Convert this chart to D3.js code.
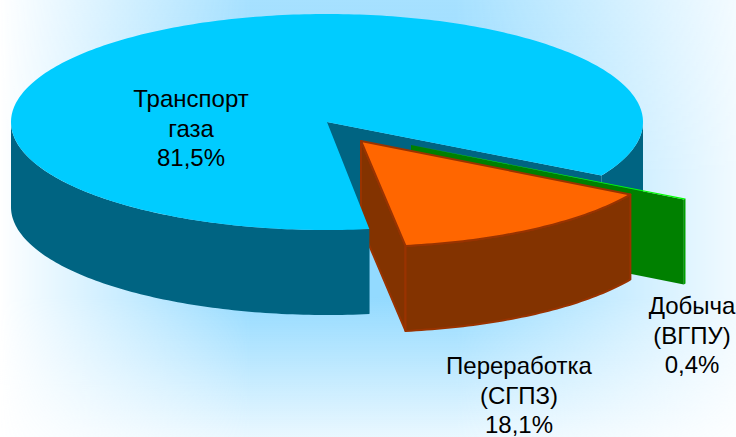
<!DOCTYPE html>
<html><head><meta charset="utf-8">
<script src="https://cdn.jsdelivr.net/npm/d3@7"></script>
<style>html,body{margin:0;padding:0;background:#fff}svg{display:block}text{font-family:"Liberation Sans",Arial,sans-serif;font-size:24px;fill:#000;text-anchor:middle}</style>
</head><body><script>
// Data
const names = ["Переработка", "Добыча", "Транспорт"];
const shares = [18.1, 0.4, 81.5];
const labels = [
  ["Переработка", "(СГПЗ)", "18,1%"],
  ["Добыча", "(ВГПУ)", "0,4%"],
  ["Транспорт", "газа", "81,5%"]
];
const topColors = ["#ff6600", "#00ff00", "#00ccff"];
const sideColors = ["#833300", "#00a000", "#006482"];
const cutColors = ["#833300", "#008000", "#006482"];

// Layout
const W = 736, H = 437, DEPTH = 85;
const radii = [[312, 106], [316, 108], [316, 108]];
const apexes = [[361, 141], [411, 145], [327, 122]];
const labelPos = [[519, 374], [692, 314], [191, 107]];
const LINE = 29.5;

const svg = d3.select("body").append("svg").attr("width", W).attr("height", H);
const defs = svg.append("defs");
const gh = defs.append("linearGradient").attr("id", "gh");
[[0, "#000"], [.02, "#111"], [.34, "#fff"], [.62, "#fff"], [1, "#222"]].forEach(s => gh.append("stop").attr("offset", s[0]).attr("stop-color", s[1]));
const gv = defs.append("linearGradient").attr("id", "gv").attr("x2", 0).attr("y2", 1);
[[0, .82], [.4, 1], [.68, 1], [1, .2]].forEach(s => gv.append("stop").attr("offset", s[0]).attr("stop-color", "#93daff").attr("stop-opacity", s[1]));
defs.append("mask").attr("id", "m").attr("maskUnits", "userSpaceOnUse").attr("x", 0).attr("y", 0).attr("width", W).attr("height", H)
  .append("rect").attr("width", W).attr("height", H).attr("fill", "url(#gh)");
svg.append("rect").attr("width", W).attr("height", H).attr("fill", "#fff");
svg.append("rect").attr("width", W).attr("height", H).attr("fill", "url(#gv)").attr("mask", "url(#m)");

// Pie layout, then a scale from pie angle to the drawn ellipse parameter (degrees)
const pie = d3.pie().sort(null).value(d => d).startAngle(0).endAngle(2 * Math.PI);
const arcs = pie(shares);
const total = d3.sum(shares);
const toAngle = a => a / (2 * Math.PI) * total;
const tScale = d3.scaleLinear().domain([0, shares[0], shares[0] + shares[1], total]).range([81.8, 30.3, 29.7, 82.3 - 360]);
const pt = (i, deg, dz = 0) => {
  const r = deg * Math.PI / 180;
  return [apexes[i][0] + radii[i][0] * Math.cos(r), apexes[i][1] + radii[i][1] * Math.sin(r) + dz];
};
const line = d3.line();
const rim = (i, a, b, dz = 0) => {
  const n = Math.max(2, Math.ceil(Math.abs(b - a)));
  return d3.range(n + 1).map(k => pt(i, a + (b - a) * k / n, dz));
};
const ang = i => [tScale(toAngle(arcs[i].startAngle)), tScale(toAngle(arcs[i].endAngle))];
const draw = (pts, fill, stroke, sw) => svg.append("path").attr("d", line(pts) + "Z").attr("fill", fill)
  .attr("stroke", stroke || "none").attr("stroke-width", sw || 0).attr("stroke-linejoin", "round");
const cut = (i, deg) => {
  const A = apexes[i], R = pt(i, deg);
  return [A, R, [R[0], R[1] + DEPTH], [A[0], A[1] + DEPTH]];
};
const wall = (i, a, b) => rim(i, a, b).concat(rim(i, b, a, DEPTH));
const visibleWall = (i, a, b) => wall(i, Math.min(Math.max(a, 0), 180), Math.min(Math.max(b, 0), 180));
const edge = "#993300";

const [oS, oE] = ang(0), [gS, gE] = ang(1), [bS, bE] = ang(2);
// blue cut faces
draw(cut(2, bS), cutColors[2]);
draw(cut(2, bE + 360), cutColors[2]);
// orange cut face (sits behind the blue body)
draw(cut(0, oS), cutColors[0], edge, 2);
// blue outer wall: right part and left/front part
draw(visibleWall(2, bS, 0), sideColors[2]);
draw(wall(2, bE + 360, 180), sideColors[2]);
// green slice
draw(cut(1, gS), cutColors[1]);
draw(wall(1, gS, gE), sideColors[1]);
draw([apexes[1]].concat(rim(1, gS, gE)), topColors[1]);
// blue top
draw([apexes[2]].concat(rim(2, bS, bE)), topColors[2]);
// orange outer wall and top
draw(wall(0, oS, oE), sideColors[0], edge, 2);
draw([apexes[0]].concat(rim(0, oS, oE)), topColors[0], edge, 2);

labels.forEach((ls, i) => {
  const t = svg.append("text").attr("x", labelPos[i][0]).attr("y", labelPos[i][1]);
  ls.forEach((s, k) => t.append("tspan").attr("x", labelPos[i][0]).attr("y", labelPos[i][1] + k * LINE).text(s));
});
</script></body></html>
